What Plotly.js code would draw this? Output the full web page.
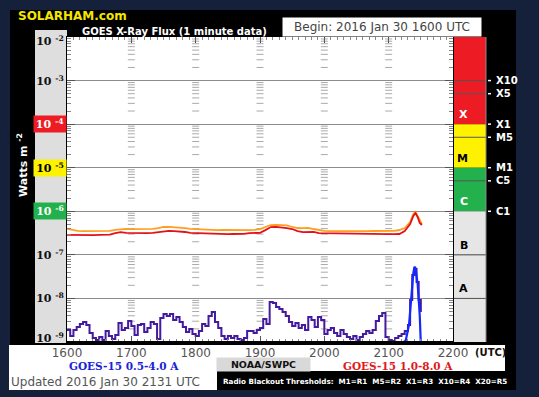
<!DOCTYPE html>
<html><head><meta charset="utf-8">
<script src="https://cdn.plot.ly/plotly-3.0.1.min.js"></script>
<style>html,body{margin:0;padding:0;background:#15203a;} #chart{width:539px;height:397px;}</style>
</head><body><div id="chart"></div>
<script>
// ---------------- data ----------------
const hourTickVals = [0, 60, 120, 180, 240, 300, 360];
const hourTickText = ['1600', '1700', '1800', '1900', '2000', '2100', '2200'];
const decadePowers = [-2, -3, -4, -5, -6, -7, -8, -9];

// minutes after 16:00 UTC
const longTimes = [0,5,10,15,20,25,30,35,40,45,50,55,60,65,70,75,80,85,90,95,100,105,110,115,120,125,130,135,140,145,150,155,160,165,170,175,180,185,190,195,200,205,210,215,220,225,230,235,240,245,250,255,260,265,270,275,280,285,290,295,300,305,310,315,320,323,325,327,329,331];
// GOES-15 1.0-8.0 A (red)
const goes15Long = [2.86e-7,2.84e-7,2.88e-7,2.85e-7,2.87e-7,2.84e-7,2.86e-7,2.85e-7,2.90e-7,3.15e-7,3.34e-7,3.20e-7,3.17e-7,3.15e-7,3.18e-7,3.16e-7,3.20e-7,3.34e-7,3.50e-7,3.55e-7,3.52e-7,3.48e-7,3.35e-7,3.18e-7,3.15e-7,3.02e-7,3.00e-7,3.03e-7,3.00e-7,3.02e-7,2.99e-7,3.01e-7,3.00e-7,3.03e-7,3.15e-7,3.18e-7,3.20e-7,3.70e-7,4.35e-7,4.40e-7,4.30e-7,4.13e-7,3.92e-7,3.52e-7,3.34e-7,3.30e-7,3.36e-7,3.17e-7,3.15e-7,3.19e-7,3.16e-7,3.18e-7,3.14e-7,3.02e-7,3.00e-7,2.98e-7,3.01e-7,2.99e-7,3.00e-7,3.02e-7,3.00e-7,2.99e-7,3.01e-7,3.50e-7,5.10e-7,7.80e-7,9.10e-7,7.40e-7,5.40e-7,4.85e-7];
// second long-channel trace (orange)
const goes13Long = [3.95e-7,3.72e-7,3.55e-7,3.50e-7,3.53e-7,3.49e-7,3.54e-7,3.50e-7,3.56e-7,3.75e-7,3.92e-7,3.95e-7,3.90e-7,3.93e-7,3.88e-7,3.94e-7,3.96e-7,4.13e-7,4.36e-7,4.40e-7,4.35e-7,4.30e-7,4.13e-7,3.95e-7,3.90e-7,3.74e-7,3.70e-7,3.73e-7,3.69e-7,3.72e-7,3.70e-7,3.74e-7,3.71e-7,3.73e-7,3.70e-7,3.75e-7,3.92e-7,4.36e-7,4.84e-7,4.90e-7,4.85e-7,4.75e-7,4.36e-7,4.13e-7,4.10e-7,4.15e-7,3.92e-7,3.72e-7,3.55e-7,3.52e-7,3.50e-7,3.54e-7,3.51e-7,3.53e-7,3.50e-7,3.52e-7,3.49e-7,3.53e-7,3.51e-7,3.55e-7,3.52e-7,3.56e-7,3.72e-7,4.13e-7,5.68e-7,8.66e-7,9.63e-7,7.79e-7,5.98e-7,5.11e-7];

const shortTimes = [0,3,6,9,12,15,18,21,24,27,30,33,36,39,42,45,48,51,54,57,60,63,66,69,72,75,78,81,84,87,90,93,96,99,102,105,108,111,114,117,120,123,126,129,132,135,138,141,144,147,150,153,156,159,162,165,168,171,174,177,180,183,186,189,192,195,198,201,204,207,210,213,216,219,222,225,228,231,234,237,240,243,246,249,252,255,258,261,264,267,270,273,276,279,282,285,288,291,294,297,300,303,306,309,312,315,318,320,322,324,326,328,330];
// short channel (purple)
const goes13Short = [1.88e-9,1.37e-9,1.88e-9,2.21e-9,2.59e-9,2.88e-9,2.45e-9,1.61e-9,1.23e-9,1.11e-9,1.30e-9,1.11e-9,1.79e-9,1.37e-9,1.17e-9,1.45e-9,2.73e-9,1.88e-9,2.09e-9,3.03e-9,2.33e-9,1.45e-9,2.45e-9,2.59e-9,1.70e-9,2.09e-9,2.88e-9,2.59e-9,1.17e-9,3.55e-9,4.39e-9,3.95e-9,4.39e-9,3.20e-9,3.75e-9,2.88e-9,2.21e-9,1.70e-9,1.99e-9,1.53e-9,1.37e-9,1.79e-9,2.59e-9,2.33e-9,3.95e-9,4.88e-9,2.88e-9,2.09e-9,1.37e-9,1.17e-9,1.37e-9,1.23e-9,1.37e-9,1.17e-9,1.11e-9,1.23e-9,1.79e-9,1.79e-9,1.61e-9,1.88e-9,2.09e-9,3.37e-9,2.59e-9,8.27e-9,7.85e-9,6.35e-9,5.71e-9,4.88e-9,3.95e-9,2.88e-9,2.33e-9,2.73e-9,2.09e-9,2.45e-9,1.88e-9,3.75e-9,3.20e-9,2.21e-9,3.75e-9,3.20e-9,1.53e-9,1.88e-9,2.09e-9,1.61e-9,1.37e-9,1.88e-9,1.53e-9,1.30e-9,1.17e-9,1.37e-9,1.11e-9,1.30e-9,1.53e-9,1.79e-9,1.61e-9,1.88e-9,3.03e-9,3.95e-9,4.63e-9,1.30e-9,1.11e-9,1.05e-9,1.23e-9,1.37e-9,1.53e-9,1.79e-9,2.45e-9,9.20e-9,3.45e-8,4.73e-8,2.38e-8,9.20e-9,4.88e-9];

// GOES-15 0.5-4.0 A (blue), visible part near the flare
const blueTimes = [312, 316, 319, 321, 323, 324, 325, 327, 329, 330];
const goes15Short = [0.9e-9, 1.1e-9, 2.5e-9, 1.2e-8, 3.8e-8, 5.3e-8, 5.0e-8, 2.2e-8, 4.0e-9, 0.9e-9];

const classBands = [
  {name: 'X', lo: 1e-4, hi: 1e-2, fill: '#ed1c24', text: '#ffffff'},
  {name: 'M', lo: 1e-5, hi: 1e-4, fill: '#fff200', text: '#000000'},
  {name: 'C', lo: 1e-6, hi: 1e-5, fill: '#22b14c', text: '#ffffff'},
  {name: 'B', lo: 1e-7, hi: 1e-6, fill: '#e6e6e6', text: '#000000'},
  {name: 'A', lo: 1e-8, hi: 1e-7, fill: '#e6e6e6', text: '#000000'},
  {name: '',  lo: 1e-9, hi: 1e-8, fill: '#e6e6e6', text: '#000000'}
];
const classLabels = ['X10', 'X5', 'X1', 'M5', 'M1', 'C5', 'C1'];
const classLabelVals = [1e-3, 5e-4, 1e-4, 5e-5, 1e-5, 5e-6, 1e-6];
const bandLineVals = [1e-3, 5e-4, 5e-5, 5e-6, 1e-7, 1e-8];
const labelBoxColors = {'-4': ['#ed1c24', '#ffffff'], '-5': ['#fff200', '#000000'], '-6': ['#22b14c', '#ffffff']};

// ---------------- geometry helpers ----------------
const W = 539, H = 397, ML = 67, MR = 86, MT = 37, MB = 55;
const PW = W - ML - MR, PH = H - MT - MB;
const px = x => (x - ML) / PW;
const py = y => (H - MB - y) / PH;

// minor tick marks along each hour line (log minor ticks)
const mtX = [], mtY = [];
hourTickVals.slice(1, -1).forEach(h => {
  for (let p = -9; p < -2; p++) for (let m = 2; m <= 9; m++) { mtX.push(h); mtY.push(m * Math.pow(10, p)); }
});

const traces = [
  {x: mtX, y: mtY, mode: 'markers', hoverinfo: 'skip', showlegend: false,
   marker: {symbol: 'line-ew', size: 5, color: '#aaa', line: {color: '#aaa', width: 1}}},
  {x: longTimes, y: goes13Long, mode: 'lines', line: {color: '#ff9f1c', width: 1.8}, showlegend: false},
  {x: longTimes, y: goes15Long, mode: 'lines', line: {color: '#e3111b', width: 1.8}, showlegend: false},
  {x: shortTimes, y: goes13Short, mode: 'lines', line: {color: '#441a9e', width: 2, shape: 'hv'}, showlegend: false},
  {x: blueTimes, y: goes15Short, mode: 'lines', line: {color: '#1428ff', width: 2.2}, showlegend: false}
];

const shapes = [];
const rect = (x0, x1, y0, y1, fill) => shapes.push({type: 'rect', xref: 'paper', yref: 'paper', x0: px(x0), x1: px(x1), y0: py(y1), y1: py(y0), fillcolor: fill, line: {width: 0}, layer: 'below'});
rect(10, 516, 10, 390, '#000000');
rect(35, 67, 30, 343, '#dedede');
rect(67, 453, 37, 342, '#ffffff');
rect(9, 505, 345, 371, '#ffffff');
rect(9, 217, 345, 390, '#ffffff');
// colour bar bands
classBands.forEach(b => shapes.push({type: 'rect', xref: 'paper', yref: 'y', x0: 1, x1: px(486), y0: b.lo, y1: b.hi, fillcolor: b.fill, line: {width: 0}, layer: 'below'}));
bandLineVals.forEach(v => shapes.push({type: 'line', xref: 'paper', yref: 'y', x0: 1, x1: px(486), y0: v, y1: v, line: {color: '#555', width: 1}, layer: 'below'}));
shapes.push({type: 'line', xref: 'paper', yref: 'y', x0: px(486), x1: px(486), y0: 1e-9, y1: 1e-2, line: {color: '#888', width: 1}, layer: 'below'});
classLabelVals.forEach(v => shapes.push({type: 'line', xref: 'paper', yref: 'y', x0: px(488), x1: px(491), y0: v, y1: v, line: {color: '#ffffff', width: 1.5}, layer: 'below'}));
shapes.push({type: 'line', xref: 'paper', yref: 'paper', x0: 0, x1: 1, y0: 0, y1: 0, line: {color: '#000', width: 2}, layer: 'above'});

const ann = [];
// y tick labels
decadePowers.forEach(p => {
  const c = labelBoxColors[String(p)];
  ann.push({xref: 'paper', yref: 'y', x: px(67), y: p, xanchor: 'right', yanchor: 'middle',
    yshift: p === -2 ? -4 : (p === -9 ? 4 : 0),
    text: '10 <sup>' + p + '</sup>', showarrow: false, width: 32, height: 16, borderpad: 0,
    bgcolor: c ? c[0] : 'rgba(0,0,0,0)', align: 'center',
    font: {family: 'DejaVu Serif', size: 11, color: c ? c[1] : '#111', weight: 'bold'}});
});
// band letters
classBands.forEach(b => { if (b.name) ann.push({xref: 'paper', yref: 'y', x: px(469.5), y: Math.log10(b.lo), yanchor: 'bottom', yshift: 1,
  text: '<b>' + b.name + '</b>', showarrow: false, font: {family: 'DejaVu Sans', size: 11, color: b.text}}); });
// class labels right
classLabels.forEach((t, i) => ann.push({xref: 'paper', yref: 'y', x: px(494), y: Math.log10(classLabelVals[i]), xanchor: 'left', yanchor: 'middle',
  text: '<b>' + t + '</b>', showarrow: false, font: {family: 'DejaVu Sans', size: 10, color: '#ffffff'}}));
const txt = (x, y, t, xa, font, extra) => ann.push(Object.assign({xref: 'paper', yref: 'paper', x: px(x), y: py(y), xanchor: xa, yanchor: 'middle', text: t, showarrow: false, font: font}, extra || {}));
txt(16, 16, '<b>SOLARHAM.com</b>', 'left', {family: 'DejaVu Sans', size: 12, color: '#f3e600'});
txt(80, 31, '<b>GOES X-Ray Flux (1 minute data)</b>', 'left', {family: 'DejaVu Sans', size: 10, color: '#ffffff'});
txt(382, 27, 'Begin: 2016 Jan 30 1600 UTC', 'center', {family: 'DejaVu Sans', size: 12, color: '#444'}, {bgcolor: '#ffffff', width: 198, height: 18, borderpad: 0});
txt(22, 165, '<b>Watts m <sup>-2</sup></b>', 'center', {family: 'DejaVu Sans', size: 11, color: '#ffffff'}, {textangle: -90});
txt(473, 352, '<b>(UTC)</b>', 'left', {family: 'DejaVu Sans', size: 10, color: '#111'});
txt(124, 366, '<b>GOES-15 0.5-4.0 A</b>', 'center', {family: 'DejaVu Serif', size: 10.5, color: '#1a22d8'});
txt(398, 366, '<b>GOES-15 1.0-8.0 A</b>', 'center', {family: 'DejaVu Serif', size: 10.5, color: '#e01a1a'});
txt(263.5, 364.5, '<b>NOAA/SWPC</b>', 'center', {family: 'DejaVu Sans', size: 9.5, color: '#111'}, {bgcolor: '#d9d9d9', width: 93, height: 13, borderpad: 0});
txt(9, 382, 'Updated 2016 Jan 30 2131 UTC', 'left', {family: 'DejaVu Sans', size: 12, color: '#555'});
txt(221, 381, '<b>Radio Blackout Thresholds:  M1=R1  M5=R2  X1=R3  X10=R4  X20=R5</b>', 'left', {family: 'DejaVu Sans', size: 7.2, color: '#ffffff'});

const layout = {
  width: W, height: H,
  margin: {l: ML, r: MR, t: MT, b: MB, pad: 0},
  paper_bgcolor: '#15203a', plot_bgcolor: 'rgba(0,0,0,0)',
  showlegend: false,
  xaxis: {range: [0, 360], tickmode: 'array', tickvals: hourTickVals, ticktext: hourTickText,
    ticks: 'inside', ticklen: 6, tickcolor: '#555', showline: true, linecolor: '#000', linewidth: 1, mirror: 'ticks',
    showgrid: false, zeroline: false, tickfont: {family: 'DejaVu Sans', size: 12, color: '#555'},
    minor: {dtick: 6, ticks: 'inside', ticklen: 3, tickcolor: '#888'}},
  yaxis: {type: 'log', range: [-9, -2], tickmode: 'array', tickvals: decadePowers.map(p => Math.pow(10, p)),
    showticklabels: false, ticks: 'inside', ticklen: 8, tickcolor: '#555', showline: true, linecolor: '#000', linewidth: 1,
    mirror: 'ticks', showgrid: true, gridcolor: '#8c8c8c', gridwidth: 1, zeroline: false,
    minor: {dtick: 'D1', ticks: 'inside', ticklen: 4, tickcolor: '#888', showgrid: false}},
  shapes: shapes,
  annotations: ann
};
Plotly.newPlot('chart', traces, layout, {staticPlot: true, displayModeBar: false});
</script></body></html>
